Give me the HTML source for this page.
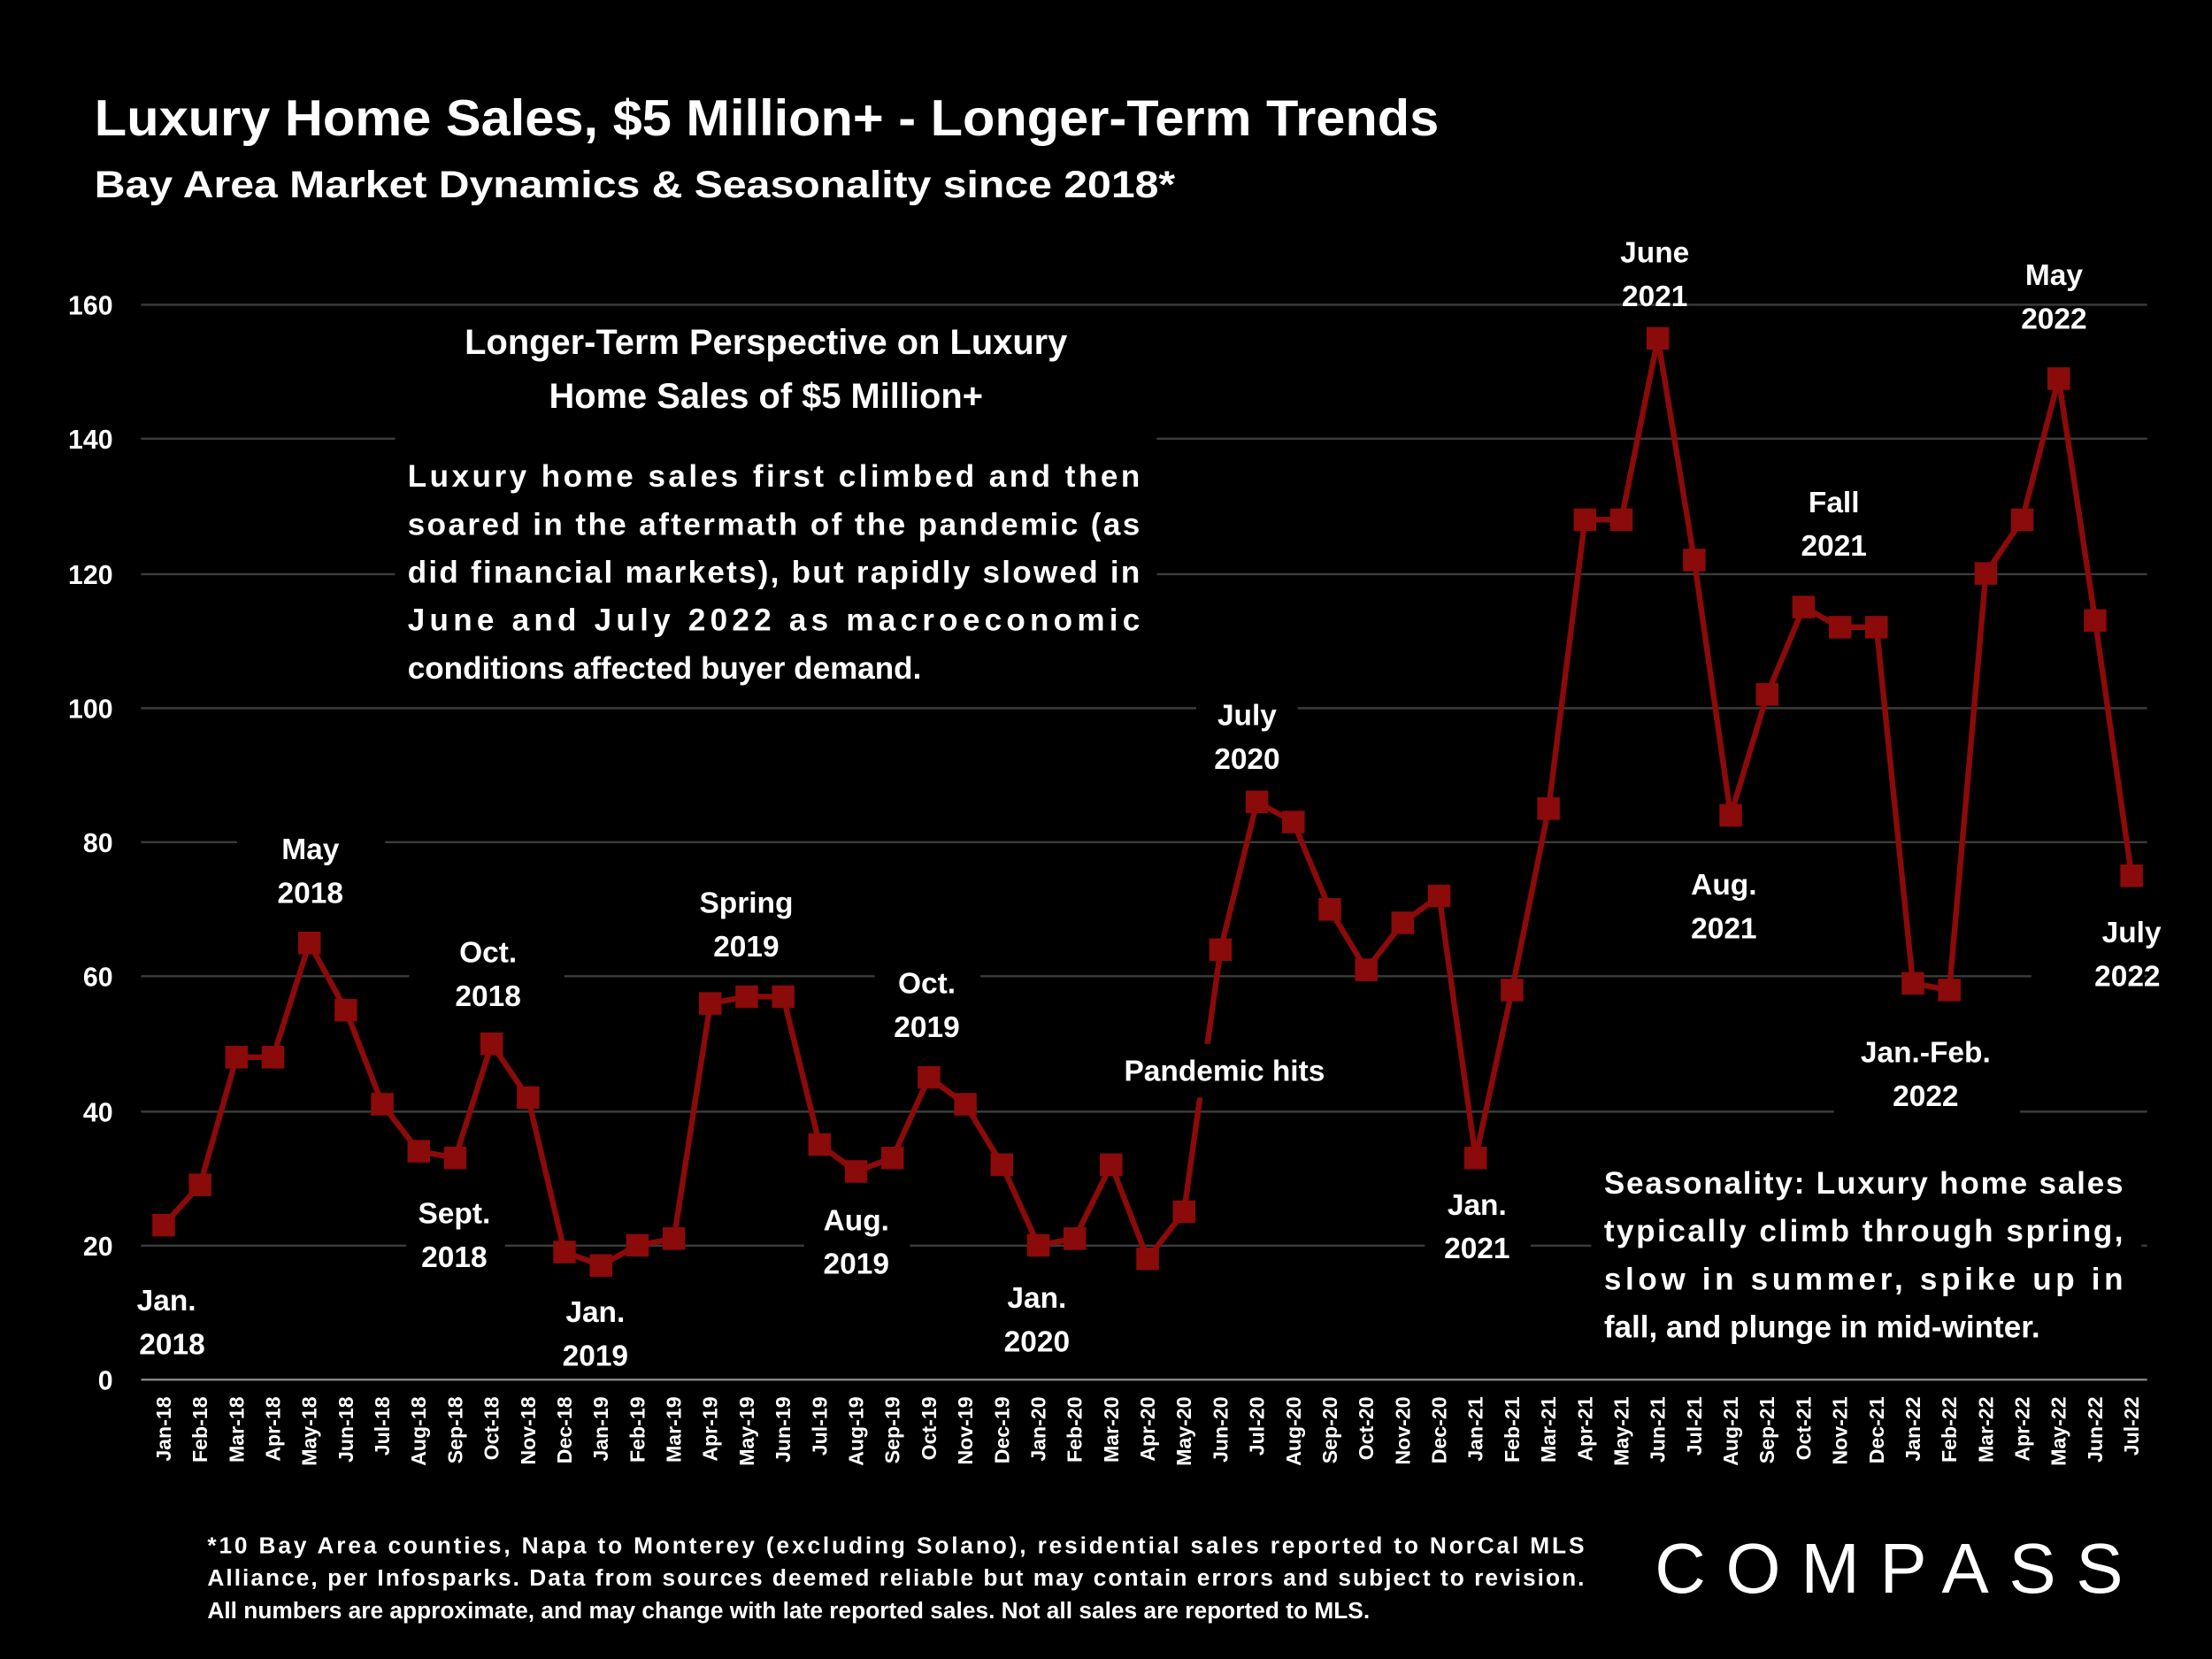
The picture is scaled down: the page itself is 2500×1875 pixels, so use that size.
<!DOCTYPE html>
<html><head><meta charset="utf-8"><style>
html,body{margin:0;padding:0;background:#000;}
svg{display:block;}
text{font-family:"Liberation Sans",sans-serif;font-weight:bold;fill:#fff;}
</style></head><body>
<svg width="2500" height="1875" viewBox="0 0 1568 1176" xmlns="http://www.w3.org/2000/svg">
<rect width="1568" height="1176" fill="#000"/>
<text x="67" y="96" font-size="36" textLength="953" lengthAdjust="spacingAndGlyphs">Luxury Home Sales, $5 Million+ - Longer-Term Trends</text>
<text x="67" y="140" font-size="27" textLength="766" lengthAdjust="spacingAndGlyphs">Bay Area Market Dynamics &amp; Seasonality since 2018*</text>
<g stroke="#3c3c3c" stroke-width="1.5">
<line x1="100" y1="216" x2="1522" y2="216"/><line x1="100" y1="311" x2="1522" y2="311"/>
<line x1="100" y1="407" x2="1522" y2="407"/><line x1="100" y1="502" x2="1522" y2="502"/>
<line x1="100" y1="597" x2="1522" y2="597"/><line x1="100" y1="692" x2="1522" y2="692"/>
<line x1="100" y1="788" x2="1522" y2="788"/><line x1="100" y1="883" x2="1522" y2="883"/>
</g>
<line x1="100" y1="978" x2="1522" y2="978" stroke="#888" stroke-width="1.5"/>
<g font-size="19" text-anchor="end">
<text x="80" y="223">160</text><text x="80" y="318">140</text><text x="80" y="414">120</text>
<text x="80" y="509">100</text><text x="80" y="604">80</text><text x="80" y="699">60</text>
<text x="80" y="795">40</text><text x="80" y="890">20</text><text x="80" y="985">0</text>
</g>
<g id="series"></g>
<!-- label backgrounds -->
<g fill="#000">
<rect x="280" y="222" width="540" height="270"/>
<rect x="168" y="586" width="105" height="60"/>
<rect x="290" y="658" width="110" height="60"/>
<rect x="288" y="843" width="70" height="60"/>
<rect x="90" y="905" width="70" height="60"/>
<rect x="380" y="913" width="80" height="60"/>
<rect x="488" y="623" width="85" height="60"/>
<rect x="570" y="850" width="75" height="60"/>
<rect x="620" y="680" width="75" height="60"/>
<rect x="700" y="903" width="75" height="60"/>
<rect x="785" y="740" width="165" height="38"/>
<rect x="848" y="490" width="72" height="60"/>
<rect x="1010" y="837" width="75" height="60"/>
<rect x="1128" y="820" width="390" height="140"/>
<rect x="1190" y="610" width="70" height="60"/>
<rect x="1245" y="340" width="115" height="60"/>
<rect x="1300" y="730" width="132" height="60"/>
<rect x="1440" y="645" width="80" height="60"/>
</g>
<g font-size="21" text-anchor="middle">
<text x="543" y="251" font-size="25">Longer-Term Perspective on Luxury</text>
<text x="543" y="289" font-size="25">Home Sales of $5 Million+</text>
</g>
<g font-size="22">
<text x="289" y="345" textLength="519" lengthAdjust="spacing">Luxury home sales first climbed and then</text>
<text x="289" y="379" textLength="519" lengthAdjust="spacing">soared in the aftermath of the pandemic (as</text>
<text x="289" y="413" textLength="519" lengthAdjust="spacing">did financial markets), but rapidly slowed in</text>
<text x="289" y="447" textLength="519" lengthAdjust="spacing">June and July 2022 as macroeconomic</text>
<text x="289" y="481">conditions affected buyer demand.</text>
<text x="1137" y="846" textLength="368" lengthAdjust="spacing">Seasonality: Luxury home sales</text>
<text x="1137" y="880" textLength="368" lengthAdjust="spacing">typically climb through spring,</text>
<text x="1137" y="914" textLength="368" lengthAdjust="spacing">slow in summer, spike up in</text>
<text x="1137" y="948">fall, and plunge in mid-winter.</text>
</g>
<g font-size="21" text-anchor="middle">
<text x="220" y="609">May</text><text x="220" y="640">2018</text>
<text x="346" y="682">Oct.</text><text x="346" y="713">2018</text>
<text x="322" y="867">Sept.</text><text x="322" y="898">2018</text>
<text x="118" y="929">Jan.</text><text x="122" y="960">2018</text>
<text x="422" y="937">Jan.</text><text x="422" y="968">2019</text>
<text x="529" y="647">Spring</text><text x="529" y="678">2019</text>
<text x="607" y="872">Aug.</text><text x="607" y="903">2019</text>
<text x="657" y="704">Oct.</text><text x="657" y="735">2019</text>
<text x="735" y="927">Jan.</text><text x="735" y="958">2020</text>
<text x="868" y="766">Pandemic hits</text>
<text x="884" y="514">July</text><text x="884" y="545">2020</text>
<text x="1047" y="861">Jan.</text><text x="1047" y="892">2021</text>
<text x="1173" y="186">June</text><text x="1173" y="217">2021</text>
<text x="1222" y="634">Aug.</text><text x="1222" y="665">2021</text>
<text x="1300" y="363">Fall</text><text x="1300" y="394">2021</text>
<text x="1365" y="753">Jan.-Feb.</text><text x="1365" y="784">2022</text>
<text x="1456" y="202">May</text><text x="1456" y="233">2022</text>
<text x="1511" y="668">July</text><text x="1508" y="699">2022</text>
</g>
<g id="xl" font-size="14.5" text-anchor="end"></g>
<text x="147" y="1101" font-size="16.5" textLength="976" lengthAdjust="spacing">*10 Bay Area counties, Napa to Monterey (excluding Solano), residential sales reported to NorCal MLS</text>
<text x="147" y="1124" font-size="16.5" textLength="976" lengthAdjust="spacing">Alliance, per Infosparks. Data from sources deemed reliable but may contain errors and subject to revision.</text>
<text x="147" y="1147" font-size="16.5">All numbers are approximate, and may change with late reported sales. Not all sales are reported to MLS.</text>
<text x="1173" y="1129" font-size="50" style="font-weight:normal" textLength="332" lengthAdjust="spacing">COMPASS</text>
<script>
var d=[23,29,48,48,65,55,41,34,33,50,42,19,17,20,21,56,57,57,35,31,33,45,41,32,20,21,32,18,25,64,86,83,70,61,68,72,33,58,85,128,128,155,122,84,102,115,112,112,59,58,120,128,149,113,75];
var m=["Jan","Feb","Mar","Apr","May","Jun","Jul","Aug","Sep","Oct","Nov","Dec"];
var ns="http://www.w3.org/2000/svg",s=document.getElementById("series"),xl=document.getElementById("xl");
function X(i){return 116+i*(1511-116)/54;}function Y(v){return 978-v*762/160;}
var pts=d.map(function(v,i){return X(i).toFixed(1)+","+Y(v).toFixed(1)});
var pl=document.createElementNS(ns,"polyline");pl.setAttribute("points",pts.join(" "));
pl.setAttribute("fill","none");pl.setAttribute("stroke","#8b0a0a");pl.setAttribute("stroke-width","4");s.appendChild(pl);
d.forEach(function(v,i){var r=document.createElementNS(ns,"rect");r.setAttribute("x",X(i)-8);r.setAttribute("y",Y(v)-8);
r.setAttribute("width",16);r.setAttribute("height",16);r.setAttribute("fill","#8b0a0a");s.appendChild(r);
var t=document.createElementNS(ns,"text");var x=X(i)+5,y=990;t.setAttribute("transform","translate("+x+","+y+") rotate(-90)");
t.textContent=m[i%12]+"-"+(18+Math.floor(i/12));xl.appendChild(t);});
</script>
</svg>
</body></html>
